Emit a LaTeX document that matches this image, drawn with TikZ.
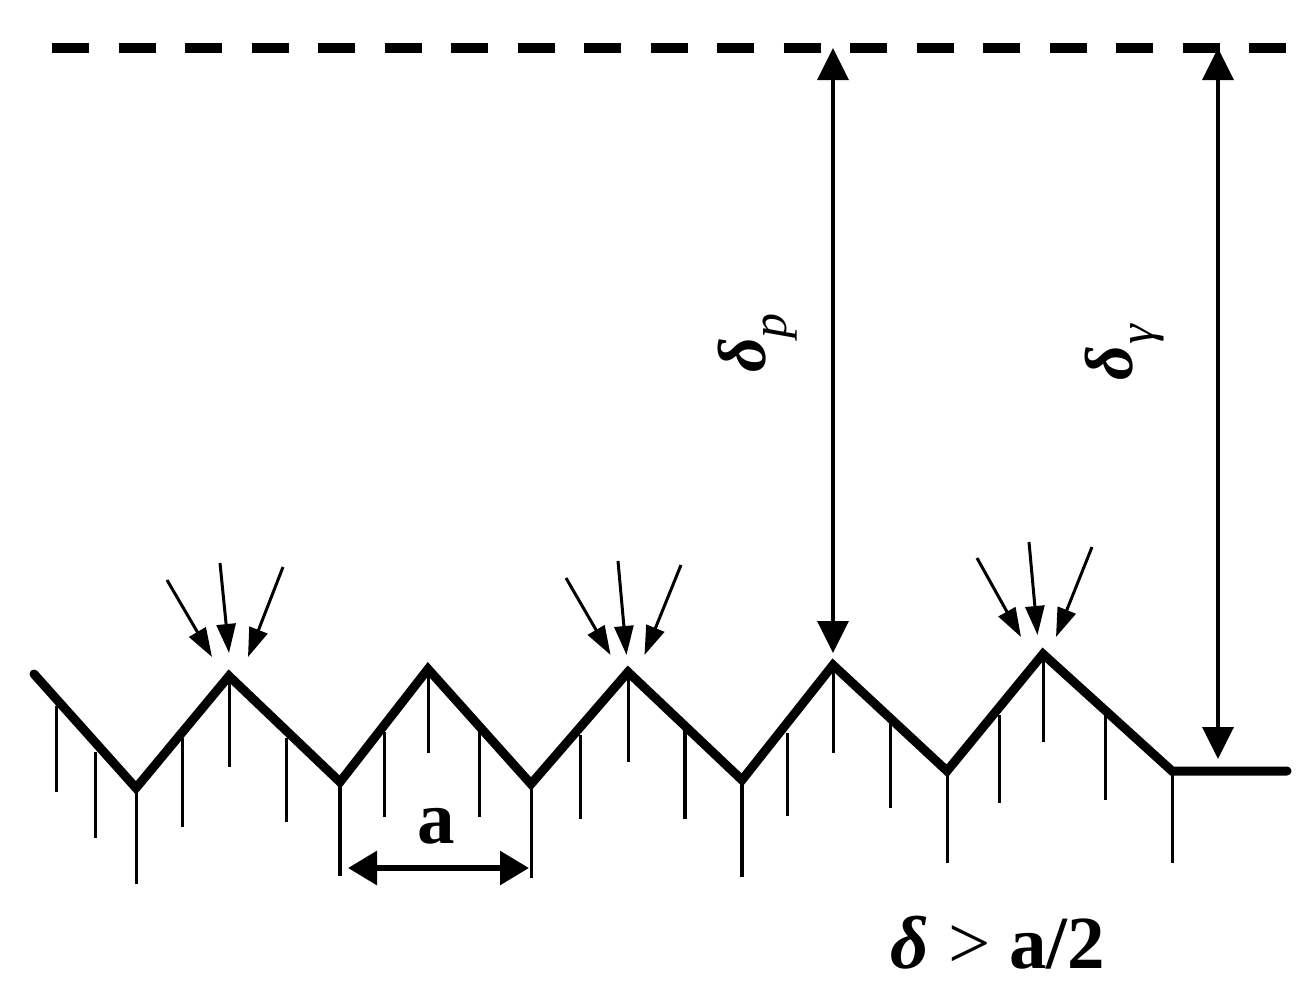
\documentclass[tikz,border=0pt]{standalone}
\usepackage{fontspec}
\setmainfont{Liberation Serif}
\usetikzlibrary{arrows.meta}
\begin{document}
\begin{tikzpicture}[x=1pt,y=-1pt,
  zig/.style={line width=9pt,line join=miter,line cap=round},
  hatch/.style={line width=3pt},
  hatchb/.style={line width=4.5pt},
  small/.style={line width=3pt,-{Triangle[length=29pt,width=19pt]}},
  big/.style={line width=3.6pt,{Triangle[length=32pt,width=31pt]}-{Triangle[length=32pt,width=31pt]}},
  dim/.style={line width=6pt,{Triangle[length=29pt,width=33pt]}-{Triangle[length=29pt,width=33pt]}},
  lab/.style={inner sep=0pt,font=\fontsize{75}{80}\selectfont\bfseries},
  labr/.style={inner sep=0pt,font=\fontsize{68}{80}\selectfont\bfseries},
  sub/.style={inner sep=0pt,font=\fontsize{50}{56}\selectfont\itshape}]
\useasboundingbox (0,0) rectangle (1309,1001);
% reference level
\coordinate (d0) at (52,48); \coordinate (d1) at (1287,48);
\draw[line width=10.5pt,dash pattern=on 37pt off 29.5pt] (d0) -- (d1);
% profile
\foreach \n/\x/\y in {z0/34/674,z1/136/788,z2/229/676,z3/340/782,z4/428/669,z5/531/784,z6/628/672,z7/742/780,z8/833/665,z9/947/771,z10/1043/654,z11/1172/771,z12/1287/771}
  \coordinate (\n) at (\x,\y);
\draw[zig] (z0) -- (z1) -- (z2) -- (z3) -- (z4) -- (z5) -- (z6) -- (z7) -- (z8) -- (z9) -- (z10) -- (z11) -- (z12);
% hatching
\foreach \x/\a/\b in {56/706/792,95.5/752/838,136/788/884,182/738/827,229/676/767,286/738/822,384.5/732/817,428/669/753,479/732/817,531/784/878,580/735/819,628/672/762,787/733/816,833/665/753,890.6/722/808,947/771/863,999/715/803,1043/654/742,1105/715/800,1172.6/771/863}
  \draw[hatch] (\x,\a) -- (\x,\b);
\foreach \x/\a/\b in {340/782/876,685/728/819,742/780/877}
  \draw[hatchb] (\x,\a) -- (\x,\b);
% small arrows
\foreach \n/\ax/\ay/\bx/\by in {
  p/167/580/212/657, q/220/563/229/653, r/283/567/248/657,
  s/566/578/610.6/655, t/618/561/626.5/655, u/681/565/644.5/655,
  v/977/558/1021/637, w/1029/542/1037.5/635, y/1092/547/1056/637}{
  \coordinate (\n0) at (\ax,\ay);
  \coordinate (\n1) at (\bx,\by);
  \draw[small] (\n0) -- (\n1);
}
% dimension arrows
\coordinate (b0) at (833,48); \coordinate (b1) at (833,653);
\draw[big] (b0) -- (b1);
\coordinate (c0) at (1218,48); \coordinate (c1) at (1218,759);
\draw[big] (c0) -- (c1);
\coordinate (e0) at (348,868); \coordinate (e1) at (529,868);
\draw[dim] (e0) -- (e1);
% labels
\node[lab] (la) at (436,826) {a};
\node[lab] (lc) at (998,943) {\textit{δ} \textmd{>} a/2};
\node[labr,rotate=90] (dp) at (742,355) {\textit{δ}};
\node[sub,rotate=90] (dps) at (780,326) {p};
\node[labr,rotate=90] (dg) at (1109,363) {\textit{δ}};
\node[sub,rotate=90] (dgs) at (1147,335) {γ};
\end{tikzpicture}
\end{document}
